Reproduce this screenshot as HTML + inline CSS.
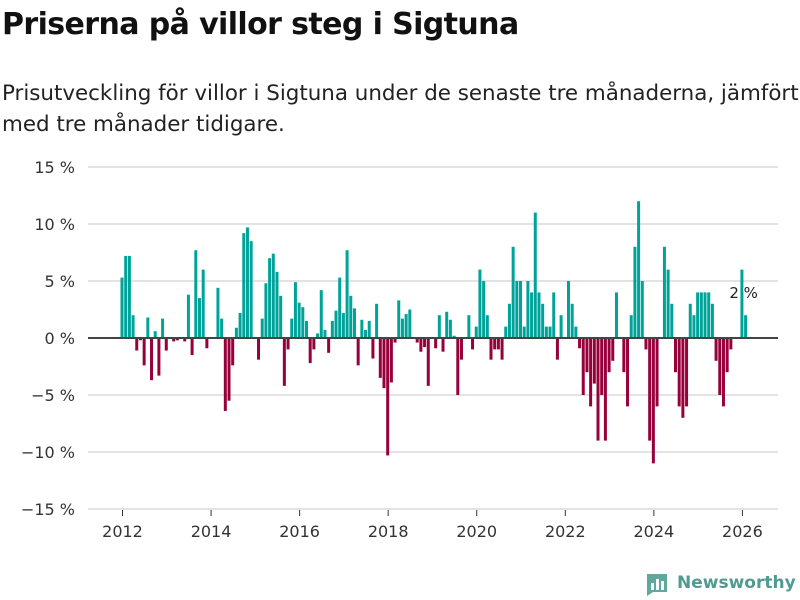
<!DOCTYPE html>
<html><head><meta charset="utf-8">
<style>
body{margin:0;width:800px;height:600px;background:#fff;font-family:"Liberation Sans","DejaVu Sans",sans-serif;overflow:hidden;position:relative}
h1{position:absolute;left:2px;top:7px;margin:0;font-size:30px;font-weight:bold;color:#111;font-family:"DejaVu Sans","Liberation Sans",sans-serif;letter-spacing:-0.6px}
.sub{position:absolute;left:2px;top:78px;margin:0;font-size:21.4px;line-height:31px;color:#222;font-family:"DejaVu Sans","Liberation Sans",sans-serif;white-space:nowrap}
svg{position:absolute;left:0;top:0}
</style></head><body>
<h1>Priserna på villor steg i Sigtuna</h1>
<p class="sub">Prisutveckling för villor i Sigtuna under de senaste tre månaderna, jämfört<br>med tre månader tidigare.</p>
<svg id="chart" width="800" height="600"></svg>
<script>
const values = [5.3,7.2,7.2,2.0,-1.1,-0.2,-2.4,1.8,-3.7,0.6,-3.3,1.7,-1.1,0,-0.3,-0.2,0,-0.3,3.8,-1.5,7.7,3.5,6.0,-0.9,0,0,4.4,1.7,-6.4,-5.5,-2.4,0.9,2.2,9.2,9.7,8.5,0,-1.9,1.7,4.8,7.0,7.4,5.8,3.7,-4.2,-1.0,1.7,4.9,3.1,2.7,1.5,-2.2,-1.0,0.4,4.2,0.7,-1.3,1.5,2.4,5.3,2.2,7.7,3.7,2.6,-2.4,1.6,0.7,1.5,-1.8,3.0,-3.5,-4.4,-10.3,-3.9,-0.4,3.3,1.7,2.1,2.5,0,-0.4,-1.2,-0.8,-4.2,0,-0.9,2.0,-1.2,2.3,1.6,0.2,-5.0,-1.9,0,2.0,-1.0,1.0,6.0,5.0,2.0,-1.9,-1.0,-1.0,-1.9,1.0,3.0,8.0,5.0,5.0,1.0,5.0,4.0,11.0,4.0,3.0,1.0,1.0,4.0,-1.9,2.0,0,5.0,3.0,1.0,-0.9,-5.0,-3.0,-6.0,-4.0,-9.0,-5.0,-9.0,-3.0,-2.0,4.0,0,-3.0,-6.0,2.0,8.0,12.0,5.0,-1.0,-9.0,-11.0,-6.0,0,8.0,6.0,3.0,-3.0,-6.0,-7.0,-6.0,3.0,2.0,4.0,4.0,4.0,4.0,3.0,-2.0,-5.0,-6.0,-3.0,-1.0,0,0,6.0,2.0];
const yTicks = [15,10,5,0,-5,-10,-15];
const yTickLabels = ["15 %","10 %","5 %","0 %","−5 %","−10 %","−15 %"];
const xYears = [2012,2014,2016,2018,2020,2022,2024,2026];
const lastLabel = "2 %";

const svg = document.getElementById('chart');
const NS = 'http://www.w3.org/2000/svg';
function y(v){return 338 - v*11.4;}
function xm(i){return 121 + i*3.69;}
function xYear(yr){return xm((yr-2012)*12);}
function mk(tag, attrs){const e=document.createElementNS(NS,tag);for(const k in attrs)e.setAttribute(k,attrs[k]);svg.appendChild(e);return e;}

yTicks.forEach((t,k)=>{
  const g = mk('line',{x1:88,x2:778,y1:y(t),y2:y(t),stroke:'#e3e3e3','stroke-width':2});
  
  
  const tx = mk('text',{x:75,y:y(t)+6,'text-anchor':'end','font-size':16,fill:'#333','font-family':'DejaVu Sans, Liberation Sans, sans-serif'});
  tx.textContent = yTickLabels[k];
  
  
});
xYears.forEach(yr=>{
  const tk = mk('line',{x1:xYear(yr)+1.5,x2:xYear(yr)+1.5,y1:510,y2:516,stroke:'#333','stroke-width':1});
  
  
  const tx = mk('text',{x:xYear(yr)+1.5,y:537,'text-anchor':'middle','font-size':16,fill:'#333','font-family':'DejaVu Sans, Liberation Sans, sans-serif'});
  tx.textContent = yr;
  
  
});
values.forEach((v,i)=>{
  if(v===0) return;
  const top = v>0 ? y(v) : y(0);
  const r = mk('rect',{x:xm(i)-0.5,y:top,width:3,height:Math.abs(y(v)-y(0)),fill:v>0?'#00a39a':'#98003c'});
  
  
});
const zl = mk('line',{x1:88,x2:778,y1:y(0),y2:y(0),stroke:'#444','stroke-width':2});


const li = values.length-1;
const lbl = mk('text',{x:xm(li)-1,y:y(values[li])-17,'text-anchor':'middle','font-size':15,fill:'#222',stroke:'#fff','stroke-width':3,'paint-order':'stroke','font-family':'DejaVu Sans, Liberation Sans, sans-serif'});
lbl.textContent = lastLabel;


</script>
<div style="position:absolute;left:645px;top:570px;display:flex;align-items:center">
  <svg width="24" height="26" style="position:static"><path d="M2 4 h20 v18 h-14 l-6 4 z" fill="#5fa89e"/><rect x="6" y="13" width="3" height="7" fill="#fff"/><rect x="11" y="9" width="3" height="11" fill="#fff"/><rect x="16" y="11" width="3" height="9" fill="#fff"/></svg>
  <span style="margin-left:8px;font-size:17px;font-weight:bold;color:#4f9a91;font-family:'DejaVu Sans','Liberation Sans',sans-serif">Newsworthy</span>
</div>
</body></html>
